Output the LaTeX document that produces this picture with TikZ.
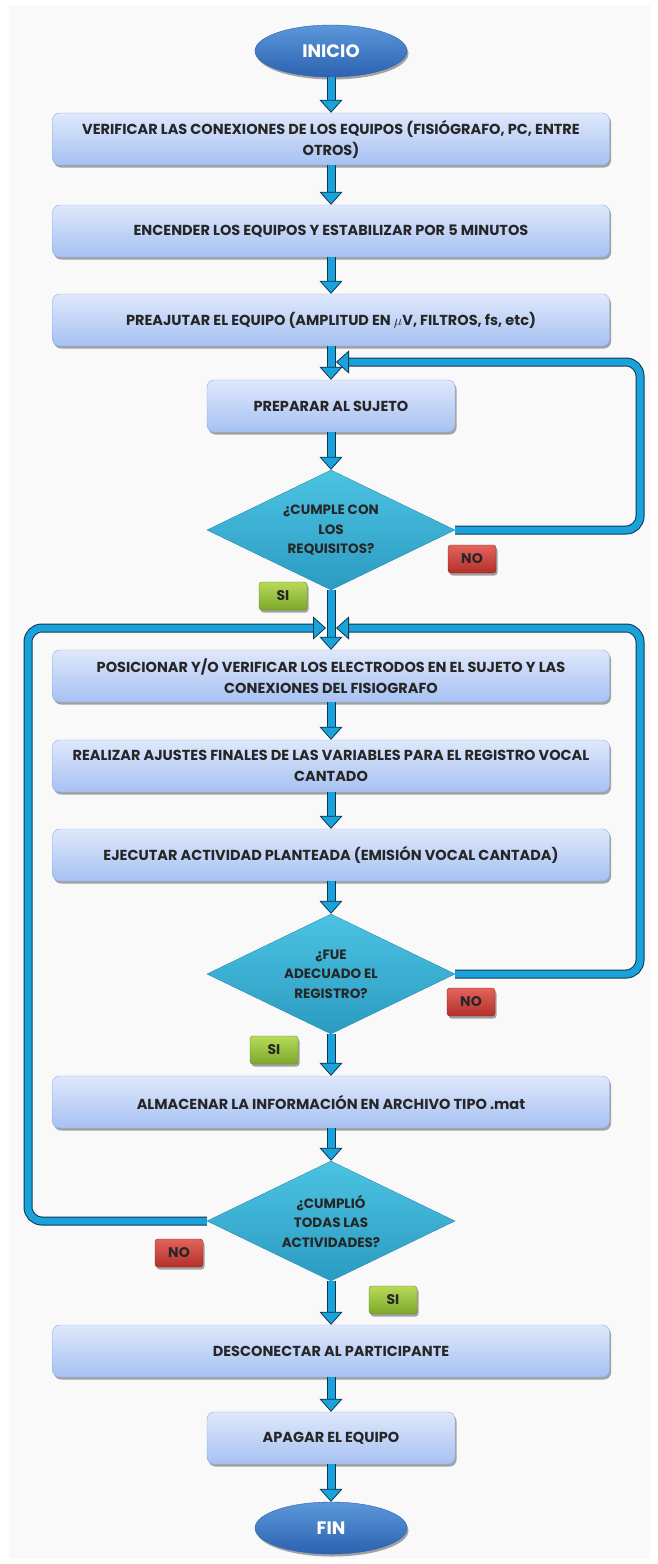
\documentclass[tikz,border=0pt]{standalone}
\usepackage{fontspec}
\setmainfont{Poppins}
\usetikzlibrary{shapes.geometric,arrows.meta,shadows}
\definecolor{panel}{HTML}{F9F9F9}
\definecolor{boxtop}{HTML}{DFE8FB}
\definecolor{boxbot}{HTML}{A6C1F2}
\definecolor{boxline}{HTML}{8DADE6}
\definecolor{dectop}{HTML}{4CC3E3}
\definecolor{decbot}{HTML}{2B9BC1}
\definecolor{decline}{HTML}{2A8CB2}
\definecolor{ovaltop}{HTML}{5B97DA}
\definecolor{ovalbot}{HTML}{2C62B0}
\definecolor{pipe}{HTML}{1AA2DA}
\definecolor{pipedark}{HTML}{0C3652}
\definecolor{sitop}{HTML}{B8DA58}
\definecolor{sibot}{HTML}{7DA82B}
\definecolor{notop}{HTML}{E3645D}
\definecolor{nobot}{HTML}{B32F2A}
\tikzset{
  every node/.style={font=\bfseries\fontsize{14.5}{21}\selectfont, text=black!85},
  sombra/.style={drop shadow={shadow xshift=1.5pt, shadow yshift=-2.5pt, opacity=0.35, fill=black}},
  proceso/.style={rectangle, rounded corners=7pt, draw=boxline, top color=boxtop, bottom color=boxbot, minimum height=52pt, align=center, sombra},
  ancho/.style={proceso, minimum width=557pt},
  corto/.style={proceso, minimum width=248pt},
  decision/.style={diamond, aspect=2, draw=decline, top color=dectop, bottom color=decbot, minimum width=248pt, minimum height=120pt, inner sep=0pt, align=center, font=\bfseries\fontsize{13.5}{19.5}\selectfont},
  terminal/.style={ellipse, top color=ovaltop, bottom color=ovalbot, draw=ovalbot, minimum width=152pt, minimum height=52pt, text=white, font=\bfseries\fontsize{18}{20}\selectfont, sombra},
  etiqueta/.style={rectangle, rounded corners=3pt, minimum width=48pt, minimum height=28pt, inner sep=0pt, font=\bfseries\fontsize{14}{16}\selectfont, sombra},
  si/.style={etiqueta, top color=sitop, bottom color=sibot, draw=sibot!80!black},
  no/.style={etiqueta, top color=notop, bottom color=nobot, draw=nobot!80!black},
  flecha/.style={draw=pipedark, double=pipe, line width=1pt, double distance=7pt, rounded corners=14pt, -{Triangle[length=13pt,width=23pt,line width=0.8pt,color=pipedark,fill=pipe]}}
}
\begin{document}
\begin{tikzpicture}[x=1pt,y=-1pt]
\useasboundingbox (0,0) rectangle (658,1564);
\fill[panel] (9,5) rectangle (650,1559);
\node[terminal] (inicio) at (331,51) {INICIO};
\node[ancho] (b1) at (331,139) {VERIFICAR LAS CONEXIONES DE LOS EQUIPOS (FISIÓGRAFO, PC, ENTRE\\OTROS)};
\node[ancho] (b2) at (331,231) {ENCENDER LOS EQUIPOS Y ESTABILIZAR POR 5 MINUTOS};
\node[ancho] (b3) at (331,320) {PREAJUTAR EL EQUIPO (AMPLITUD EN $\mu$V, FILTROS, fs, etc)};
\node[corto] (b4) at (331,406) {PREPARAR AL SUJETO};
\node[decision] (d1) at (331,530) {¿CUMPLE CON\\LOS\\REQUISITOS?};
\node[ancho] (b5) at (331,676) {POSICIONAR Y/O VERIFICAR LOS ELECTRODOS EN EL SUJETO Y LAS\\CONEXIONES DEL FISIOGRAFO};
\node[ancho] (b6) at (331,766) {REALIZAR AJUSTES FINALES DE LAS VARIABLES PARA EL REGISTRO VOCAL\\CANTADO};
\node[ancho] (b7) at (331,855) {EJECUTAR ACTIVIDAD PLANTEADA (EMISIÓN VOCAL CANTADA)};
\node[decision] (d2) at (331,974) {¿FUE\\ADECUADO EL\\REGISTRO?};
\node[ancho] (b8) at (331,1102) {ALMACENAR LA INFORMACIÓN EN ARCHIVO TIPO .mat};
\node[decision] (d3) at (331,1221) {¿CUMPLIÓ\\TODAS LAS\\ACTIVIDADES?};
\node[ancho] (b9) at (331,1351) {DESCONECTAR AL PARTICIPANTE};
\node[corto] (b10) at (331,1438) {APAGAR EL EQUIPO};
\node[terminal] (fin) at (331,1528) {FIN};
\node[no] (no1) at (472,559) {NO};
\node[si] (si1) at (283,596) {SI};
\node[no] (no2) at (471,1002) {NO};
\node[si] (si2) at (274,1050) {SI};
\node[no] (no3) at (179,1253) {NO};
\node[si] (si3) at (393,1300) {SI};
\coordinate (j1) at (336,362);
\coordinate (j2i) at (326,628);
\coordinate (j2d) at (336,628);
\draw[flecha] (d1.east) -- (640,530) -- (640,362) -- (j1);
\draw[flecha] (d2.east) -- (640,974) -- (640,628) -- (j2d);
\draw[flecha] (d3.west) -- (28,1221) -- (28,628) -- (j2i);
\draw[flecha] (inicio) -- (b1);
\draw[flecha] (b1) -- (b2);
\draw[flecha] (b2) -- (b3);
\draw[flecha] (b3) -- (b4);
\draw[flecha] (b4) -- (d1);
\draw[flecha] (d1) -- (b5);
\draw[flecha] (b5) -- (b6);
\draw[flecha] (b6) -- (b7);
\draw[flecha] (b7) -- (d2);
\draw[flecha] (d2) -- (b8);
\draw[flecha] (b8) -- (d3);
\draw[flecha] (d3) -- (b9);
\draw[flecha] (b9) -- (b10);
\draw[flecha] (b10) -- (fin);
\end{tikzpicture}
\end{document}
